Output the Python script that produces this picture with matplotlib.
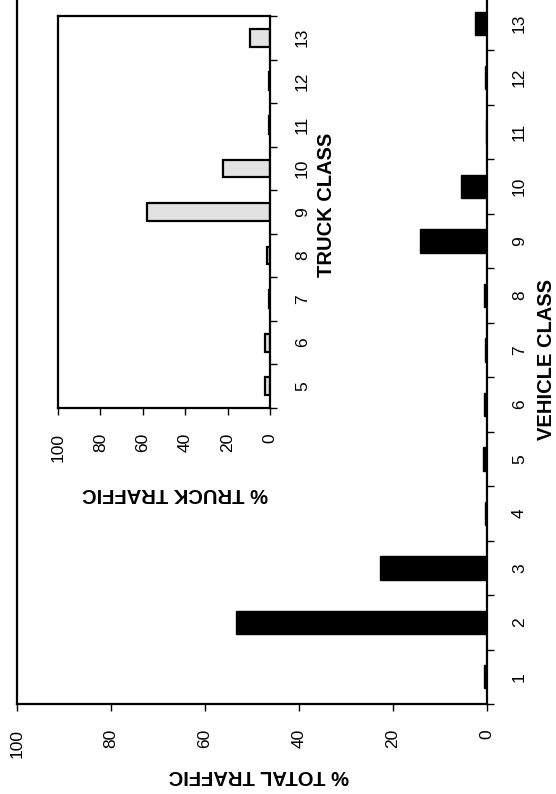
import matplotlib
matplotlib.use('Agg')
import matplotlib.pyplot as plt

plt.rcParams['font.family'] = ['Liberation Sans', 'DejaVu Sans']

# ---- data ----
vehicle_classes = list(range(1, 14))
total_traffic_pct = [0.6, 53.4, 22.8, 0.4, 0.8, 0.7, 0.4, 0.6, 14.2, 5.6, 0.3, 0.4, 2.6]
truck_classes = list(range(5, 14))
truck_traffic_pct = [2.2, 2.2, 0.3, 1.5, 58.0, 22.0, 0.3, 0.7, 9.5]
pct_ticks = [0, 20, 40, 60, 80, 100]

title_text = 'VEHICLE CLASS DISTRIBUTION'
main_value_label = '% TOTAL TRAFFIC'
main_class_label = 'VEHICLE CLASS'
inset_value_label = '% TRUCK TRAFFIC'
inset_class_label = 'TRUCK CLASS'

W, H = 556, 794


def fx(x):
    return x / W


def fy(y):
    return 1 - y / H


fig = plt.figure(figsize=(W / 100, H / 100), dpi=100)
fig.patch.set_facecolor('white')


def style_axes(ax, classes, lo, hi):
    ax.set_xlim(100, 0)
    ax.set_ylim(lo, hi)
    for s in ax.spines.values():
        s.set_linewidth(1.6)
        s.set_color('black')
    ax.set_xticks(pct_ticks)
    ax.set_xticklabels([str(t) for t in pct_ticks], rotation=90)
    ax.tick_params(axis='x', direction='out', length=5, width=1, labelsize=12.5, pad=13)
    ax.yaxis.tick_right()
    ax.set_yticks(classes)
    ax.set_yticklabels([str(c) for c in classes], rotation=90, va='center')
    ax.tick_params(axis='y', which='major', length=0, labelsize=12.5, pad=18)
    bounds = [lo] + [c + 0.5 for c in classes]
    ax.set_yticks(bounds, minor=True)
    ax.tick_params(axis='y', which='minor', direction='out', length=5, width=1,
                   right=True, left=False)


# ---- main chart ----
ax = fig.add_axes([fx(17), fy(704), fx(487) - fx(17), fy(-4) - fy(704)])
ax.barh(vehicle_classes, total_traffic_pct, height=0.43, color='black',
        edgecolor='black', linewidth=1)
style_axes(ax, vehicle_classes, 0.5, 13.5)

# ---- inset ----
axi = fig.add_axes([fx(58), fy(408), fx(270) - fx(58), fy(16) - fy(408)])
axi.barh(truck_classes, truck_traffic_pct, height=0.41, color='#e2e2e2',
         edgecolor='black', linewidth=1.6)
style_axes(axi, truck_classes, 4.5, 13.5)

# ---- labels ----
fig.text(fx(259), fy(776), main_value_label, rotation=180, ha='center', va='center',
         fontsize=14.5, fontweight='bold')
fig.text(fx(546), fy(360), main_class_label, rotation=90, ha='center', va='center',
         fontsize=14.5, fontweight='bold')
fig.text(fx(175), fy(493), inset_value_label, rotation=180, ha='center', va='center',
         fontsize=14.5, fontweight='bold')
fig.text(fx(326), fy(205), inset_class_label, rotation=90, ha='center', va='center',
         fontsize=14.5, fontweight='bold')
fig.text(fx(3), fy(265), title_text, rotation=90, ha='right', va='center',
         fontsize=14, fontweight='bold', color='#c4c4c4')

fig.savefig('out.png', dpi=100)
